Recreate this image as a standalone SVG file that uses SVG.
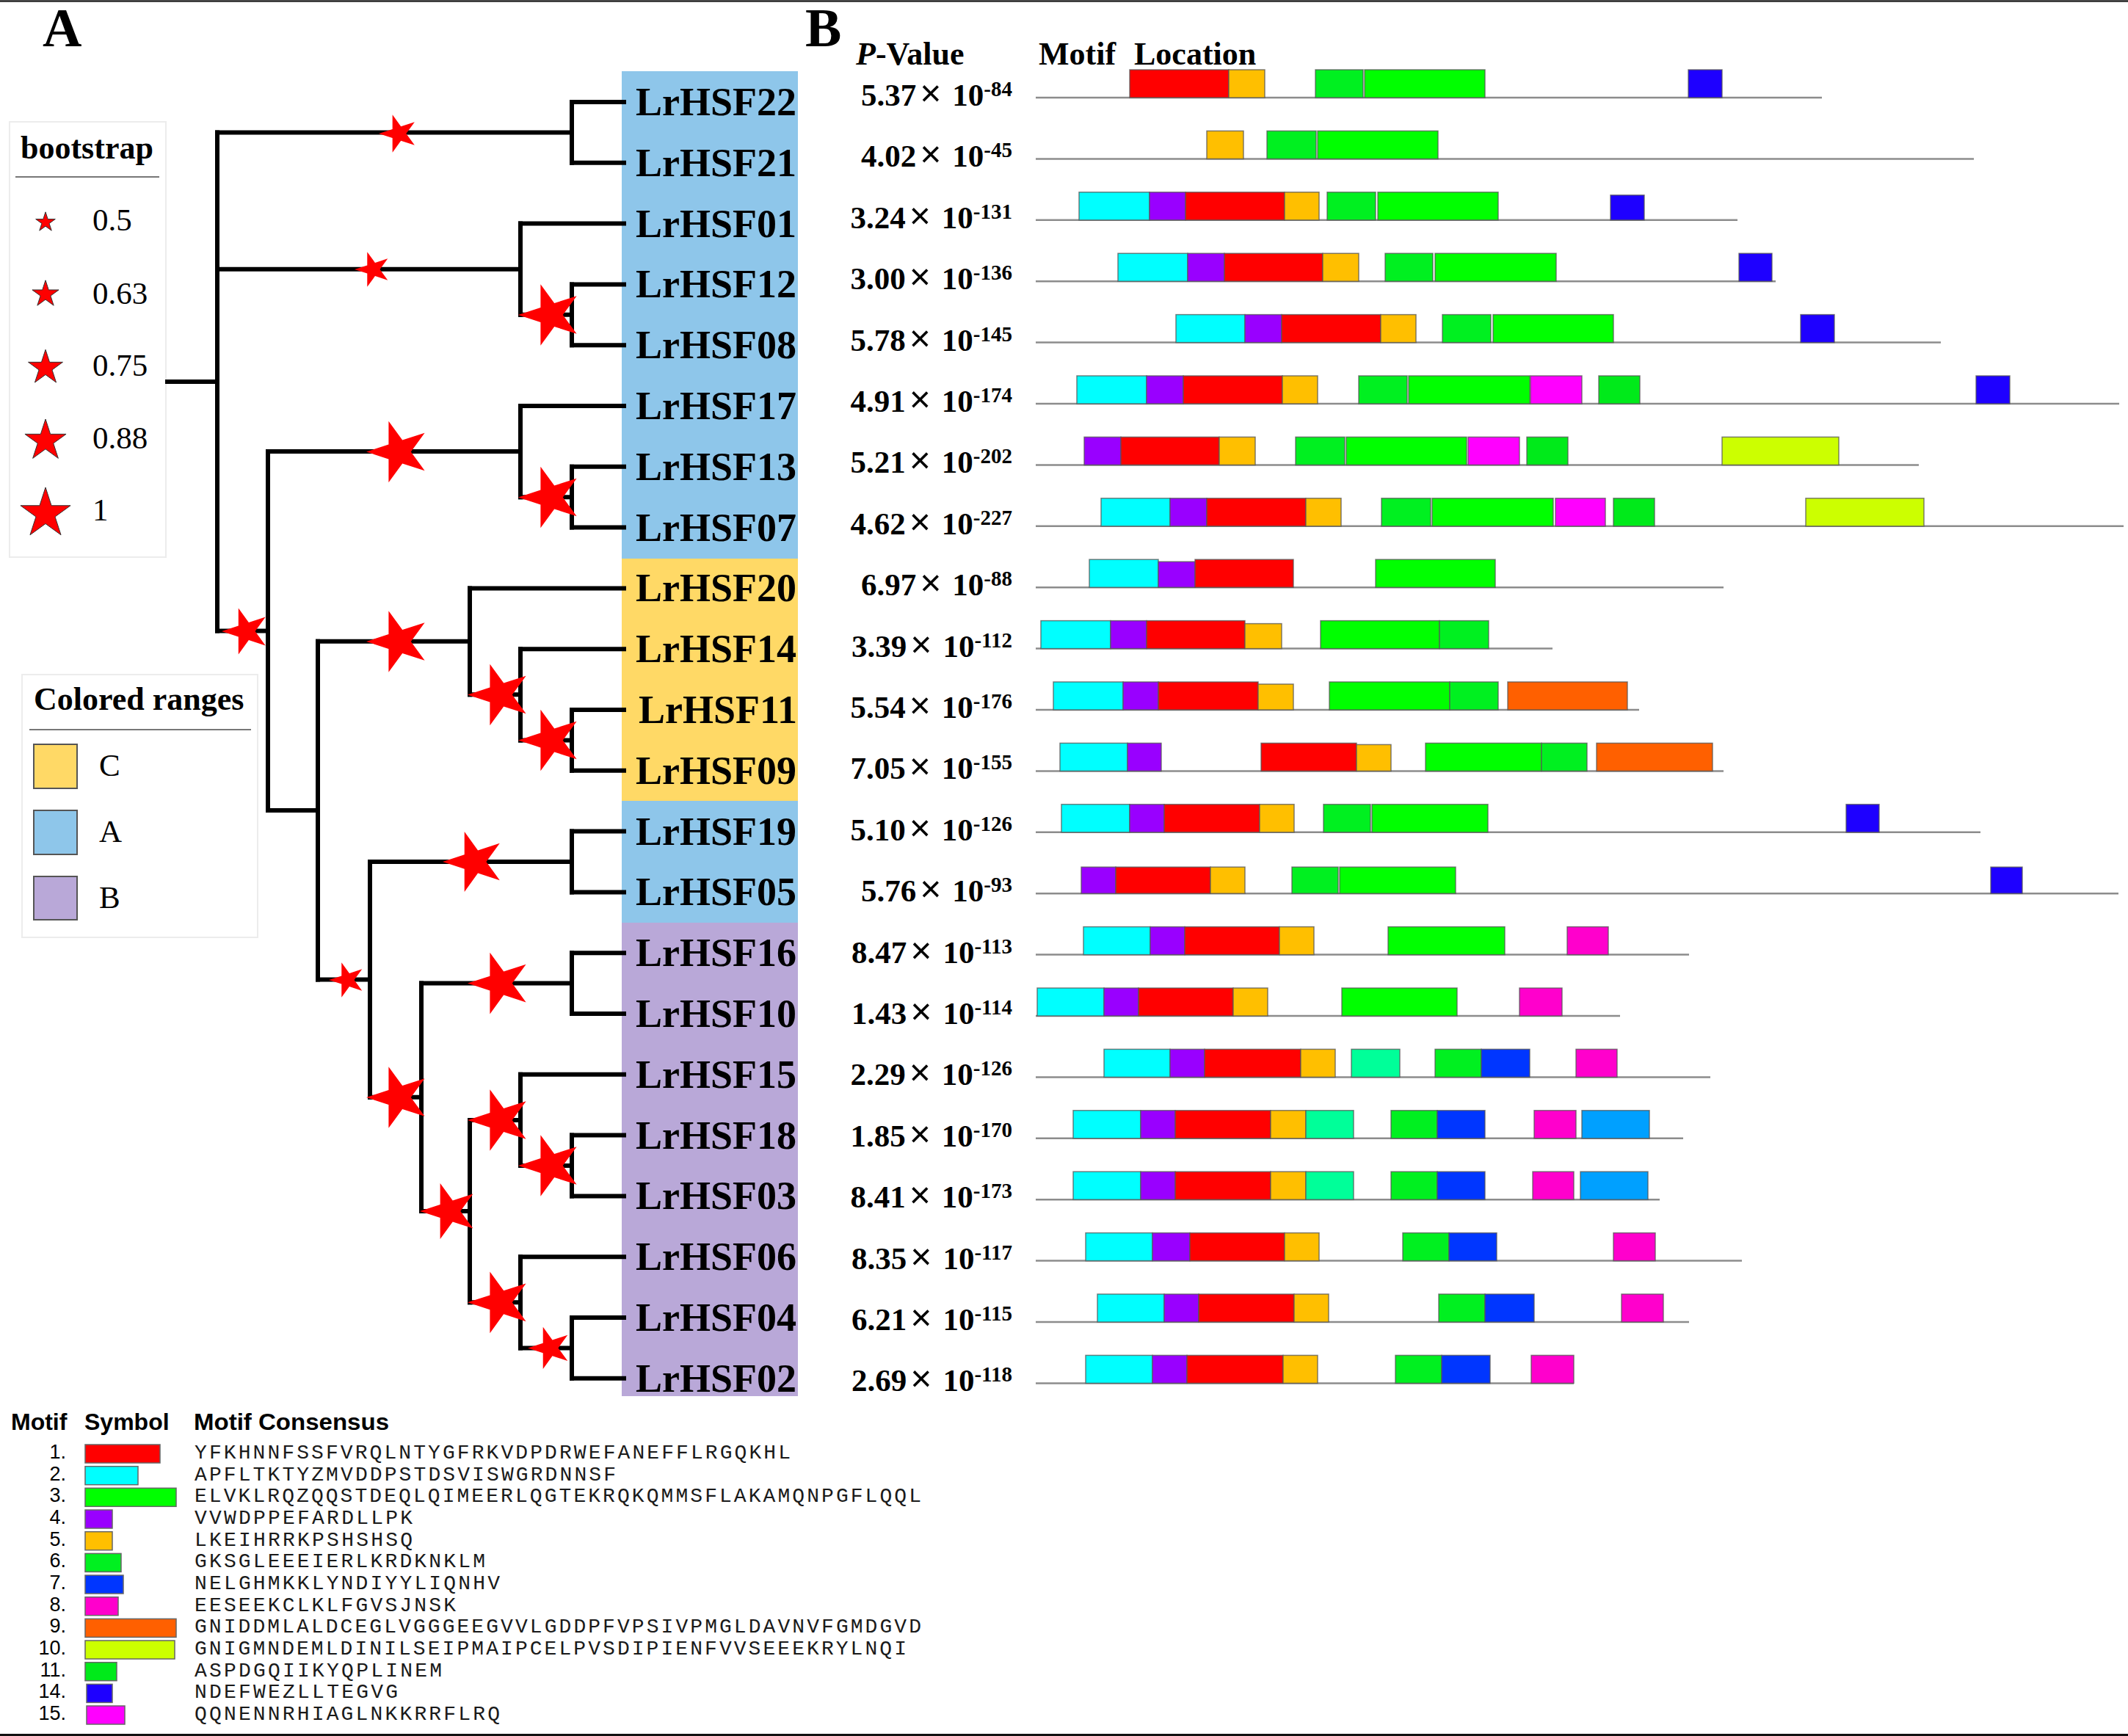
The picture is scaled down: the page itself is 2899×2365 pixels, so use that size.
<svg xmlns="http://www.w3.org/2000/svg" xmlns:xlink="http://www.w3.org/1999/xlink" width="2899" height="2365" viewBox="0 0 2899 2365">
<style>
.tree{fill:none;stroke:#000;stroke-width:6;stroke-linecap:square}
.lbl{font-family:"Liberation Serif",serif;font-weight:bold;font-size:54px;fill:#000}
.pv{font-family:"Liberation Serif",serif;font-weight:bold;font-size:43px;fill:#000;text-anchor:end}
.tx{font-family:"Liberation Sans",sans-serif;font-weight:normal;font-size:50px}
.sup{font-size:29px}
.hdr{font-family:"Liberation Serif",serif;font-weight:bold;font-size:44px;fill:#000}
.leg{font-family:"Liberation Serif",serif;font-size:43px;fill:#000}
.rl{stroke:#8c8c8c;stroke-width:2.5;fill:none}
.b{stroke:#555;stroke-width:1.5;stroke-opacity:0.75}
.m1{fill:#FF0000}.m2{fill:#00FFFF}.m3{fill:#00FF00}.m4{fill:#9900FF}.m5{fill:#FFBF00}
.m6{fill:#00F020}.m7{fill:#0036FF}.m8{fill:#FF00CC}.m9{fill:#FF6000}.m10{fill:#CCFF00}
.m11{fill:#00EA1A}.m12{fill:#00FF99}.m13{fill:#00A0FF}.m14{fill:#1E00FF}.m15{fill:#FF00FF}
.mh{font-family:"Liberation Sans",sans-serif;font-weight:bold;font-size:32px;fill:#000}
.mn{font-family:"Liberation Sans",sans-serif;font-size:27px;fill:#000;text-anchor:end}
.seq{font-family:"Liberation Mono",monospace;font-size:28px;fill:#1a1a1a}
.sym{stroke:#666;stroke-width:1.5}
.star{fill:#FF0000}
.lstar{fill:#FF0000;stroke:#333;stroke-width:1}
</style>
<defs>
<path id="star" vector-effect="non-scaling-stroke" d="M0,-100L22.45,-30.9L95.1,-30.9L36.33,11.8L58.78,80.9L0,38.2L-58.78,80.9L-36.33,11.8L-95.1,-30.9L-22.45,-30.9Z"/>
</defs>
<rect width="2899" height="2365" fill="#fff"/>
<line x1="0" y1="1.5" x2="2899" y2="1.5" stroke="#222" stroke-width="2.5"/>
<line x1="0" y1="2363.5" x2="2899" y2="2363.5" stroke="#111" stroke-width="3"/>

<text x="58" y="63" font-family="Liberation Serif,serif" font-weight="bold" font-size="74">A</text>
<text x="1097" y="63" font-family="Liberation Serif,serif" font-weight="bold" font-size="74">B</text>

<g id="legend-bootstrap">
<rect x="13" y="166" width="213" height="593" fill="#fff" stroke="#ececec" stroke-width="2"/>
<text class="hdr" x="28" y="216">bootstrap</text>
<line x1="21" y1="241" x2="217" y2="241" stroke="#777" stroke-width="2"/>
<use href="#star" class="lstar" transform="translate(62,302.8) scale(0.14)"/>
<use href="#star" class="lstar" transform="translate(62,400.8) scale(0.19)"/>
<use href="#star" class="lstar" transform="translate(62,501) scale(0.247)"/>
<use href="#star" class="lstar" transform="translate(62,600.5) scale(0.295)"/>
<use href="#star" class="lstar" transform="translate(62,699.8) scale(0.358)"/>
<text class="leg" x="126" y="314">0.5</text>
<text class="leg" x="126" y="414">0.63</text>
<text class="leg" x="126" y="512">0.75</text>
<text class="leg" x="126" y="611">0.88</text>
<text class="leg" x="126" y="709">1</text>
</g>

<g id="legend-ranges">
<rect x="30" y="919" width="321" height="358" fill="#fff" stroke="#ececec" stroke-width="2"/>
<text class="hdr" x="46" y="967">Colored ranges</text>
<line x1="40" y1="994" x2="342" y2="994" stroke="#777" stroke-width="2"/>
<rect x="46" y="1014" width="59" height="60" fill="#FFD966" stroke="#555" stroke-width="2"/>
<rect x="46" y="1104" width="59" height="60" fill="#8EC6EA" stroke="#555" stroke-width="2"/>
<rect x="46" y="1194" width="59" height="59" fill="#B9A8D8" stroke="#555" stroke-width="2"/>
<text class="leg" x="135" y="1057">C</text>
<text class="leg" x="135" y="1147">A</text>
<text class="leg" x="135" y="1237">B</text>
</g>

<g id="ranges">
<rect x="847" y="97" width="240" height="664" fill="#8EC6EA"/>
<rect x="847" y="761" width="240" height="330" fill="#FFD966"/>
<rect x="847" y="1091" width="240" height="166" fill="#8EC6EA"/>
<rect x="847" y="1257" width="240" height="645" fill="#B9A8D8"/>
</g>

<g id="connectors">
<path class="tree" d="M779,139V221.8M779,387.4V470.2M709,304.6V428.8M779,635.8V718.6M709,553V677.2M779,967V1049.8M709,884.2V1008.4M640,801.4V946.3M779,1132.6V1215.4M779,1298.2V1381M779,1546.6V1629.4M709,1463.8V1588M779,1795V1877.8M709,1712.2V1836.4M640,1525.9V1774.3M574,1339.6V1650.1M504,1174V1494.85M433,873.85V1334.4M365,615.1V1104.1M296,180.4V859.6"/>
<path class="tree" d="M228,520H296M296,180.4H779M296,366.7H709M296,859.6H365M365,615.1H709M365,1104.1H433M433,873.85H640M433,1334.4H504M504,1174H779M504,1494.85H574M574,1339.6H779M574,1650.1H640M640,1525.9H709M640,1774.3H709M640,946.3H709M709,428.8H779M709,677.2H779M709,1008.4H779M709,1588H779M709,1836.4H779"/>
<path class="tree" d="M779,139H850M779,221.8H850M709,304.6H850M779,387.4H850M779,470.2H850M709,553H850M779,635.8H850M779,718.6H850M640,801.4H850M709,884.2H850M779,967H850M779,1049.8H850M779,1132.6H850M779,1215.4H850M779,1298.2H850M779,1381H850M709,1463.8H850M779,1546.6H850M779,1629.4H850M709,1712.2H850M779,1795H850M779,1877.8H850"/>
</g>

<g id="support-stars">
<use href="#star" class="star" transform="translate(543,182) rotate(-90) scale(0.27)"/>
<use href="#star" class="star" transform="translate(508,367) rotate(-90) scale(0.25)"/>
<use href="#star" class="star" transform="translate(750,429) rotate(-90) scale(0.44)"/>
<use href="#star" class="star" transform="translate(543,615.5) rotate(-90) scale(0.44)"/>
<use href="#star" class="star" transform="translate(750,677.5) rotate(-90) scale(0.44)"/>
<use href="#star" class="star" transform="translate(335,860) rotate(-90) scale(0.33)"/>
<use href="#star" class="star" transform="translate(543,874) rotate(-90) scale(0.44)"/>
<use href="#star" class="star" transform="translate(681,946.5) rotate(-90) scale(0.44)"/>
<use href="#star" class="star" transform="translate(750,1008.5) rotate(-90) scale(0.44)"/>
<use href="#star" class="star" transform="translate(646,1174) rotate(-90) scale(0.43)"/>
<use href="#star" class="star" transform="translate(473,1335) rotate(-90) scale(0.25)"/>
<use href="#star" class="star" transform="translate(681,1339.6) rotate(-90) scale(0.44)"/>
<use href="#star" class="star" transform="translate(543,1495) rotate(-90) scale(0.44)"/>
<use href="#star" class="star" transform="translate(681,1526) rotate(-90) scale(0.44)"/>
<use href="#star" class="star" transform="translate(750,1588) rotate(-90) scale(0.44)"/>
<use href="#star" class="star" transform="translate(612,1650) rotate(-90) scale(0.40)"/>
<use href="#star" class="star" transform="translate(681,1774.3) rotate(-90) scale(0.44)"/>
<use href="#star" class="star" transform="translate(749,1836.4) rotate(-90) scale(0.30)"/>
</g>

<g id="node-LrHSF22"><text class="lbl" x="866" y="157">LrHSF22</text></g>
<g id="node-LrHSF21"><text class="lbl" x="866" y="239.8">LrHSF21</text></g>
<g id="node-LrHSF01"><text class="lbl" x="866" y="322.6">LrHSF01</text></g>
<g id="node-LrHSF12"><text class="lbl" x="866" y="405.4">LrHSF12</text></g>
<g id="node-LrHSF08"><text class="lbl" x="866" y="488.2">LrHSF08</text></g>
<g id="node-LrHSF17"><text class="lbl" x="866" y="571">LrHSF17</text></g>
<g id="node-LrHSF13"><text class="lbl" x="866" y="653.8">LrHSF13</text></g>
<g id="node-LrHSF07"><text class="lbl" x="866" y="736.6">LrHSF07</text></g>
<g id="node-LrHSF20"><text class="lbl" x="866" y="819.4">LrHSF20</text></g>
<g id="node-LrHSF14"><text class="lbl" x="866" y="902.2">LrHSF14</text></g>
<g id="node-LrHSF11"><text class="lbl" x="870" y="985">LrHSF11</text></g>
<g id="node-LrHSF09"><text class="lbl" x="866" y="1067.8">LrHSF09</text></g>
<g id="node-LrHSF19"><text class="lbl" x="866" y="1150.6">LrHSF19</text></g>
<g id="node-LrHSF05"><text class="lbl" x="866" y="1233.4">LrHSF05</text></g>
<g id="node-LrHSF16"><text class="lbl" x="866" y="1316.2">LrHSF16</text></g>
<g id="node-LrHSF10"><text class="lbl" x="866" y="1399">LrHSF10</text></g>
<g id="node-LrHSF15"><text class="lbl" x="866" y="1481.8">LrHSF15</text></g>
<g id="node-LrHSF18"><text class="lbl" x="866" y="1564.6">LrHSF18</text></g>
<g id="node-LrHSF03"><text class="lbl" x="866" y="1647.4">LrHSF03</text></g>
<g id="node-LrHSF06"><text class="lbl" x="866" y="1730.2">LrHSF06</text></g>
<g id="node-LrHSF04"><text class="lbl" x="866" y="1813">LrHSF04</text></g>
<g id="node-LrHSF02"><text class="lbl" x="866" y="1895.8">LrHSF02</text></g>

<g id="headers">
<text class="hdr" x="1166" y="88"><tspan font-style="italic">P</tspan>-Value</text>
<text class="hdr" x="1415" y="88">Motif</text>
<text class="hdr" x="1545" y="88">Location</text>
</g>

<g id="pvalues">
<text class="pv" x="1379" y="144">5.37<tspan class="tx" dx="5">×</tspan><tspan dx="15">10</tspan><tspan class="sup" dy="-13">-84</tspan></text>
<text class="pv" x="1379" y="227.4">4.02<tspan class="tx" dx="5">×</tspan><tspan dx="15">10</tspan><tspan class="sup" dy="-13">-45</tspan></text>
<text class="pv" x="1379" y="310.8">3.24<tspan class="tx" dx="5">×</tspan><tspan dx="15">10</tspan><tspan class="sup" dy="-13">-131</tspan></text>
<text class="pv" x="1379" y="394.2">3.00<tspan class="tx" dx="5">×</tspan><tspan dx="15">10</tspan><tspan class="sup" dy="-13">-136</tspan></text>
<text class="pv" x="1379" y="477.6">5.78<tspan class="tx" dx="5">×</tspan><tspan dx="15">10</tspan><tspan class="sup" dy="-13">-145</tspan></text>
<text class="pv" x="1379" y="561">4.91<tspan class="tx" dx="5">×</tspan><tspan dx="15">10</tspan><tspan class="sup" dy="-13">-174</tspan></text>
<text class="pv" x="1379" y="644.4">5.21<tspan class="tx" dx="5">×</tspan><tspan dx="15">10</tspan><tspan class="sup" dy="-13">-202</tspan></text>
<text class="pv" x="1379" y="727.8">4.62<tspan class="tx" dx="5">×</tspan><tspan dx="15">10</tspan><tspan class="sup" dy="-13">-227</tspan></text>
<text class="pv" x="1379" y="811.2">6.97<tspan class="tx" dx="5">×</tspan><tspan dx="15">10</tspan><tspan class="sup" dy="-13">-88</tspan></text>
<text class="pv" x="1379" y="894.6">3.39<tspan class="tx" dx="5">×</tspan><tspan dx="15">10</tspan><tspan class="sup" dy="-13">-112</tspan></text>
<text class="pv" x="1379" y="978">5.54<tspan class="tx" dx="5">×</tspan><tspan dx="15">10</tspan><tspan class="sup" dy="-13">-176</tspan></text>
<text class="pv" x="1379" y="1061.4">7.05<tspan class="tx" dx="5">×</tspan><tspan dx="15">10</tspan><tspan class="sup" dy="-13">-155</tspan></text>
<text class="pv" x="1379" y="1144.8">5.10<tspan class="tx" dx="5">×</tspan><tspan dx="15">10</tspan><tspan class="sup" dy="-13">-126</tspan></text>
<text class="pv" x="1379" y="1228.2">5.76<tspan class="tx" dx="5">×</tspan><tspan dx="15">10</tspan><tspan class="sup" dy="-13">-93</tspan></text>
<text class="pv" x="1379" y="1311.6">8.47<tspan class="tx" dx="5">×</tspan><tspan dx="15">10</tspan><tspan class="sup" dy="-13">-113</tspan></text>
<text class="pv" x="1379" y="1395">1.43<tspan class="tx" dx="5">×</tspan><tspan dx="15">10</tspan><tspan class="sup" dy="-13">-114</tspan></text>
<text class="pv" x="1379" y="1478.4">2.29<tspan class="tx" dx="5">×</tspan><tspan dx="15">10</tspan><tspan class="sup" dy="-13">-126</tspan></text>
<text class="pv" x="1379" y="1561.8">1.85<tspan class="tx" dx="5">×</tspan><tspan dx="15">10</tspan><tspan class="sup" dy="-13">-170</tspan></text>
<text class="pv" x="1379" y="1645.2">8.41<tspan class="tx" dx="5">×</tspan><tspan dx="15">10</tspan><tspan class="sup" dy="-13">-173</tspan></text>
<text class="pv" x="1379" y="1728.6">8.35<tspan class="tx" dx="5">×</tspan><tspan dx="15">10</tspan><tspan class="sup" dy="-13">-117</tspan></text>
<text class="pv" x="1379" y="1812">6.21<tspan class="tx" dx="5">×</tspan><tspan dx="15">10</tspan><tspan class="sup" dy="-13">-115</tspan></text>
<text class="pv" x="1379" y="1895.4">2.69<tspan class="tx" dx="5">×</tspan><tspan dx="15">10</tspan><tspan class="sup" dy="-13">-118</tspan></text>
</g>

<g id="motif-rows">
<g id="row-LrHSF22">
<line class="rl" x1="1411" y1="133" x2="2482" y2="133"/>
<rect class="b m1" x="1539" y="95" width="135" height="38"/>
<rect class="b m5" x="1674" y="95" width="49" height="38"/>
<rect class="b m6" x="1792" y="95" width="65" height="38"/>
<rect class="b m3" x="1859" y="95" width="164" height="38"/>
<rect class="b m14" x="2300" y="95" width="46" height="38"/>
</g>
<g id="row-LrHSF21">
<line class="rl" x1="1411" y1="216.4" x2="2689" y2="216.4"/>
<rect class="b m5" x="1644" y="178.4" width="50" height="38"/>
<rect class="b m6" x="1726" y="178.4" width="67" height="38"/>
<rect class="b m3" x="1795" y="178.4" width="164" height="38"/>
</g>
<g id="row-LrHSF01">
<line class="rl" x1="1411" y1="299.8" x2="2367" y2="299.8"/>
<rect class="b m2" x="1470" y="261.8" width="96" height="38"/>
<rect class="b m4" x="1566" y="261.8" width="49" height="38"/>
<rect class="b m1" x="1615" y="261.8" width="135" height="38"/>
<rect class="b m5" x="1750" y="261.8" width="47" height="38"/>
<rect class="b m6" x="1808" y="261.8" width="66" height="38"/>
<rect class="b m3" x="1877" y="261.8" width="164" height="38"/>
<rect class="b m14" x="2194" y="265.8" width="46" height="34"/>
</g>
<g id="row-LrHSF12">
<line class="rl" x1="1411" y1="383.2" x2="2419" y2="383.2"/>
<rect class="b m2" x="1523" y="345.2" width="95" height="38"/>
<rect class="b m4" x="1618" y="345.2" width="50" height="38"/>
<rect class="b m1" x="1668" y="345.2" width="134" height="38"/>
<rect class="b m5" x="1802" y="345.2" width="49" height="38"/>
<rect class="b m6" x="1887" y="345.2" width="65" height="38"/>
<rect class="b m3" x="1955" y="345.2" width="165" height="38"/>
<rect class="b m14" x="2369" y="345.2" width="45" height="38"/>
</g>
<g id="row-LrHSF08">
<line class="rl" x1="1411" y1="466.6" x2="2644" y2="466.6"/>
<rect class="b m2" x="1602" y="428.6" width="94" height="38"/>
<rect class="b m4" x="1696" y="428.6" width="50" height="38"/>
<rect class="b m1" x="1746" y="428.6" width="135" height="38"/>
<rect class="b m5" x="1881" y="428.6" width="48" height="38"/>
<rect class="b m6" x="1965" y="428.6" width="66" height="38"/>
<rect class="b m3" x="2034" y="428.6" width="164" height="38"/>
<rect class="b m14" x="2453" y="428.6" width="46" height="38"/>
</g>
<g id="row-LrHSF17">
<line class="rl" x1="1411" y1="550" x2="2887" y2="550"/>
<rect class="b m2" x="1467" y="512" width="95" height="38"/>
<rect class="b m4" x="1562" y="512" width="50" height="38"/>
<rect class="b m1" x="1612" y="512" width="135" height="38"/>
<rect class="b m5" x="1747" y="512" width="48" height="38"/>
<rect class="b m6" x="1851" y="512" width="66" height="38"/>
<rect class="b m3" x="1919" y="512" width="165" height="38"/>
<rect class="b m15" x="2085" y="512" width="70" height="38"/>
<rect class="b m11" x="2178" y="512" width="56" height="38"/>
<rect class="b m14" x="2692" y="512" width="46" height="38"/>
</g>
<g id="row-LrHSF13">
<line class="rl" x1="1411" y1="633.4" x2="2614" y2="633.4"/>
<rect class="b m4" x="1477" y="595.4" width="50" height="38"/>
<rect class="b m1" x="1527" y="595.4" width="134" height="38"/>
<rect class="b m5" x="1661" y="595.4" width="49" height="38"/>
<rect class="b m6" x="1765" y="595.4" width="67" height="38"/>
<rect class="b m3" x="1834" y="595.4" width="164" height="38"/>
<rect class="b m15" x="2000" y="595.4" width="70" height="38"/>
<rect class="b m11" x="2080" y="595.4" width="56" height="38"/>
<rect class="b m10" x="2346" y="595.4" width="159" height="38"/>
</g>
<g id="row-LrHSF07">
<line class="rl" x1="1411" y1="716.8" x2="2893" y2="716.8"/>
<rect class="b m2" x="1500" y="678.8" width="94" height="38"/>
<rect class="b m4" x="1594" y="678.8" width="50" height="38"/>
<rect class="b m1" x="1644" y="678.8" width="135" height="38"/>
<rect class="b m5" x="1779" y="678.8" width="48" height="38"/>
<rect class="b m6" x="1882" y="678.8" width="67" height="38"/>
<rect class="b m3" x="1951" y="678.8" width="165" height="38"/>
<rect class="b m15" x="2119" y="678.8" width="68" height="38"/>
<rect class="b m11" x="2198" y="678.8" width="56" height="38"/>
<rect class="b m10" x="2460" y="678.8" width="161" height="38"/>
</g>
<g id="row-LrHSF20">
<line class="rl" x1="1411" y1="800.2" x2="2348" y2="800.2"/>
<rect class="b m2" x="1484" y="762.2" width="94" height="38"/>
<rect class="b m4" x="1578" y="765.2" width="50" height="35"/>
<rect class="b m1" x="1628" y="762.2" width="134" height="38"/>
<rect class="b m3" x="1874" y="762.2" width="163" height="38"/>
</g>
<g id="row-LrHSF14">
<line class="rl" x1="1411" y1="883.6" x2="2115" y2="883.6"/>
<rect class="b m2" x="1418" y="845.6" width="95" height="38"/>
<rect class="b m4" x="1513" y="845.6" width="49" height="38"/>
<rect class="b m1" x="1562" y="845.6" width="134" height="38"/>
<rect class="b m5" x="1696" y="849.6" width="50" height="34"/>
<rect class="b m3" x="1799" y="845.6" width="162" height="38"/>
<rect class="b m6" x="1961" y="845.6" width="67" height="38"/>
</g>
<g id="row-LrHSF11">
<line class="rl" x1="1411" y1="967" x2="2233" y2="967"/>
<rect class="b m2" x="1435" y="929" width="95" height="38"/>
<rect class="b m4" x="1530" y="929" width="48" height="38"/>
<rect class="b m1" x="1578" y="929" width="136" height="38"/>
<rect class="b m5" x="1714" y="932" width="48" height="35"/>
<rect class="b m3" x="1811" y="929" width="164" height="38"/>
<rect class="b m6" x="1975" y="929" width="66" height="38"/>
<rect class="b m9" x="2054" y="929" width="163" height="38"/>
</g>
<g id="row-LrHSF09">
<line class="rl" x1="1411" y1="1050.4" x2="2348" y2="1050.4"/>
<rect class="b m2" x="1444" y="1012.4" width="92" height="38"/>
<rect class="b m4" x="1536" y="1012.4" width="46" height="38"/>
<rect class="b m1" x="1718" y="1012.4" width="130" height="38"/>
<rect class="b m5" x="1848" y="1014.4" width="47" height="36"/>
<rect class="b m3" x="1942" y="1012.4" width="158" height="38"/>
<rect class="b m6" x="2100" y="1012.4" width="62" height="38"/>
<rect class="b m9" x="2175" y="1012.4" width="158" height="38"/>
</g>
<g id="row-LrHSF19">
<line class="rl" x1="1411" y1="1133.8" x2="2698" y2="1133.8"/>
<rect class="b m2" x="1446" y="1095.8" width="93" height="38"/>
<rect class="b m4" x="1539" y="1095.8" width="47" height="38"/>
<rect class="b m1" x="1586" y="1095.8" width="130" height="38"/>
<rect class="b m5" x="1716" y="1095.8" width="47" height="38"/>
<rect class="b m6" x="1803" y="1095.8" width="64" height="38"/>
<rect class="b m3" x="1869" y="1095.8" width="158" height="38"/>
<rect class="b m14" x="2515" y="1095.8" width="45" height="38"/>
</g>
<g id="row-LrHSF05">
<line class="rl" x1="1411" y1="1217.2" x2="2886" y2="1217.2"/>
<rect class="b m4" x="1473" y="1181.2" width="47" height="36"/>
<rect class="b m1" x="1520" y="1181.2" width="129" height="36"/>
<rect class="b m5" x="1649" y="1181.2" width="47" height="36"/>
<rect class="b m6" x="1760" y="1181.2" width="63" height="36"/>
<rect class="b m3" x="1825" y="1181.2" width="158" height="36"/>
<rect class="b m14" x="2712" y="1181.2" width="43" height="36"/>
</g>
<g id="row-LrHSF16">
<line class="rl" x1="1411" y1="1300.6" x2="2301" y2="1300.6"/>
<rect class="b m2" x="1476" y="1262.6" width="91" height="38"/>
<rect class="b m4" x="1567" y="1262.6" width="47" height="38"/>
<rect class="b m1" x="1614" y="1262.6" width="129" height="38"/>
<rect class="b m5" x="1743" y="1262.6" width="47" height="38"/>
<rect class="b m3" x="1891" y="1262.6" width="159" height="38"/>
<rect class="b m8" x="2135" y="1262.6" width="56" height="38"/>
</g>
<g id="row-LrHSF10">
<line class="rl" x1="1411" y1="1384" x2="2207" y2="1384"/>
<rect class="b m2" x="1413" y="1346" width="91" height="38"/>
<rect class="b m4" x="1504" y="1346" width="47" height="38"/>
<rect class="b m1" x="1551" y="1346" width="129" height="38"/>
<rect class="b m5" x="1680" y="1346" width="47" height="38"/>
<rect class="b m3" x="1828" y="1346" width="157" height="38"/>
<rect class="b m8" x="2070" y="1346" width="58" height="38"/>
</g>
<g id="row-LrHSF15">
<line class="rl" x1="1411" y1="1467.4" x2="2330" y2="1467.4"/>
<rect class="b m2" x="1504" y="1429.4" width="90" height="38"/>
<rect class="b m4" x="1594" y="1429.4" width="47" height="38"/>
<rect class="b m1" x="1641" y="1429.4" width="131" height="38"/>
<rect class="b m5" x="1772" y="1429.4" width="47" height="38"/>
<rect class="b m12" x="1841" y="1429.4" width="66" height="38"/>
<rect class="b m6" x="1955" y="1429.4" width="63" height="38"/>
<rect class="b m7" x="2018" y="1429.4" width="66" height="38"/>
<rect class="b m8" x="2147" y="1429.4" width="56" height="38"/>
</g>
<g id="row-LrHSF18">
<line class="rl" x1="1411" y1="1550.8" x2="2293" y2="1550.8"/>
<rect class="b m2" x="1462" y="1512.8" width="92" height="38"/>
<rect class="b m4" x="1554" y="1512.8" width="47" height="38"/>
<rect class="b m1" x="1601" y="1512.8" width="130" height="38"/>
<rect class="b m5" x="1731" y="1512.8" width="48" height="38"/>
<rect class="b m12" x="1779" y="1512.8" width="65" height="38"/>
<rect class="b m6" x="1895" y="1512.8" width="63" height="38"/>
<rect class="b m7" x="1958" y="1512.8" width="65" height="38"/>
<rect class="b m8" x="2090" y="1512.8" width="57" height="38"/>
<rect class="b m13" x="2155" y="1512.8" width="92" height="38"/>
</g>
<g id="row-LrHSF03">
<line class="rl" x1="1411" y1="1634.2" x2="2261" y2="1634.2"/>
<rect class="b m2" x="1462" y="1596.2" width="92" height="38"/>
<rect class="b m4" x="1554" y="1596.2" width="47" height="38"/>
<rect class="b m1" x="1601" y="1596.2" width="130" height="38"/>
<rect class="b m5" x="1731" y="1596.2" width="48" height="38"/>
<rect class="b m12" x="1779" y="1596.2" width="65" height="38"/>
<rect class="b m6" x="1895" y="1596.2" width="63" height="38"/>
<rect class="b m7" x="1958" y="1596.2" width="65" height="38"/>
<rect class="b m8" x="2088" y="1596.2" width="56" height="38"/>
<rect class="b m13" x="2153" y="1596.2" width="92" height="38"/>
</g>
<g id="row-LrHSF06">
<line class="rl" x1="1411" y1="1717.6" x2="2373" y2="1717.6"/>
<rect class="b m2" x="1479" y="1679.6" width="91" height="38"/>
<rect class="b m4" x="1570" y="1679.6" width="51" height="38"/>
<rect class="b m1" x="1621" y="1679.6" width="129" height="38"/>
<rect class="b m5" x="1750" y="1679.6" width="47" height="38"/>
<rect class="b m6" x="1911" y="1679.6" width="63" height="38"/>
<rect class="b m7" x="1974" y="1679.6" width="65" height="38"/>
<rect class="b m8" x="2198" y="1679.6" width="57" height="38"/>
</g>
<g id="row-LrHSF04">
<line class="rl" x1="1411" y1="1801" x2="2301" y2="1801"/>
<rect class="b m2" x="1495" y="1763" width="91" height="38"/>
<rect class="b m4" x="1586" y="1763" width="47" height="38"/>
<rect class="b m1" x="1633" y="1763" width="130" height="38"/>
<rect class="b m5" x="1763" y="1763" width="47" height="38"/>
<rect class="b m6" x="1960" y="1763" width="63" height="38"/>
<rect class="b m7" x="2023" y="1763" width="67" height="38"/>
<rect class="b m8" x="2209" y="1763" width="57" height="38"/>
</g>
<g id="row-LrHSF02">
<line class="rl" x1="1411" y1="1884.4" x2="2144" y2="1884.4"/>
<rect class="b m2" x="1479" y="1846.4" width="91" height="38"/>
<rect class="b m4" x="1570" y="1846.4" width="47" height="38"/>
<rect class="b m1" x="1617" y="1846.4" width="131" height="38"/>
<rect class="b m5" x="1748" y="1846.4" width="47" height="38"/>
<rect class="b m6" x="1901" y="1846.4" width="63" height="38"/>
<rect class="b m7" x="1964" y="1846.4" width="66" height="38"/>
<rect class="b m8" x="2086" y="1846.4" width="58" height="38"/>
</g>
</g>

<g id="motif-legend">
<text class="mh" x="15" y="1948">Motif</text>
<text class="mh" x="115" y="1948">Symbol</text>
<text class="mh" x="264" y="1948" textLength="266" lengthAdjust="spacingAndGlyphs">Motif Consensus</text>
<text class="mn" x="90" y="1987">1.</text>
<text class="mn" x="90" y="2016.7">2.</text>
<text class="mn" x="90" y="2046.3">3.</text>
<text class="mn" x="90" y="2076">4.</text>
<text class="mn" x="90" y="2105.7">5.</text>
<text class="mn" x="90" y="2135.4">6.</text>
<text class="mn" x="90" y="2165">7.</text>
<text class="mn" x="90" y="2194.7">8.</text>
<text class="mn" x="90" y="2224.4">9.</text>
<text class="mn" x="90" y="2254">10.</text>
<text class="mn" x="90" y="2283.7">11.</text>
<text class="mn" x="90" y="2313.4">14.</text>
<text class="mn" x="90" y="2343">15.</text>
<rect class="sym m1" x="116" y="1968" width="102" height="25"/>
<rect class="sym m2" x="116" y="1997.7" width="72" height="25"/>
<rect class="sym m3" x="116" y="2027.3" width="124" height="25"/>
<rect class="sym m4" x="116" y="2057" width="37" height="25"/>
<rect class="sym m5" x="116" y="2086.7" width="37" height="25"/>
<rect class="sym m6" x="116" y="2116.4" width="49" height="25"/>
<rect class="sym m7" x="116" y="2146" width="52" height="25"/>
<rect class="sym m8" x="116" y="2175.7" width="45" height="25"/>
<rect class="sym m9" x="116" y="2205.4" width="124" height="25"/>
<rect class="sym m10" x="116" y="2235" width="122" height="25"/>
<rect class="sym m11" x="116" y="2264.7" width="43" height="25"/>
<rect class="sym m14" x="118" y="2294.4" width="35" height="25"/>
<rect class="sym m15" x="118" y="2324" width="52" height="25"/>
<text class="seq" x="265" y="1987" textLength="812">YFKHNNFSSFVRQLNTYGFRKVDPDRWEFANEFFLRGQKHL</text>
<text class="seq" x="265" y="2016.7" textLength="574">APFLTKTYZMVDDPSTDSVISWGRDNNSF</text>
<text class="seq" x="265" y="2046.3" textLength="990">ELVKLRQZQQSTDEQLQIMEERLQGTEKRQKQMMSFLAKAMQNPGFLQQL</text>
<text class="seq" x="265" y="2076" textLength="297">VVWDPPEFARDLLPK</text>
<text class="seq" x="265" y="2105.7" textLength="297">LKEIHRRKPSHSHSQ</text>
<text class="seq" x="265" y="2135.4" textLength="396">GKSGLEEEIERLKRDKNKLM</text>
<text class="seq" x="265" y="2165" textLength="416">NELGHMKKLYNDIYYLIQNHV</text>
<text class="seq" x="265" y="2194.7" textLength="356">EESEEKCLKLFGVSJNSK</text>
<text class="seq" x="265" y="2224.4" textLength="990">GNIDDMLALDCEGLVGGGEEGVVLGDDPFVPSIVPMGLDAVNVFGMDGVD</text>
<text class="seq" x="265" y="2254" textLength="970">GNIGMNDEMLDINILSEIPMAIPCELPVSDIPIENFVVSEEEKRYLNQI</text>
<text class="seq" x="265" y="2283.7" textLength="337">ASPDGQIIKYQPLINEM</text>
<text class="seq" x="265" y="2313.4" textLength="277">NDEFWEZLLTEGVG</text>
<text class="seq" x="265" y="2343" textLength="416">QQNENNRHIAGLNKKRRFLRQ</text>
</g>
</svg>
